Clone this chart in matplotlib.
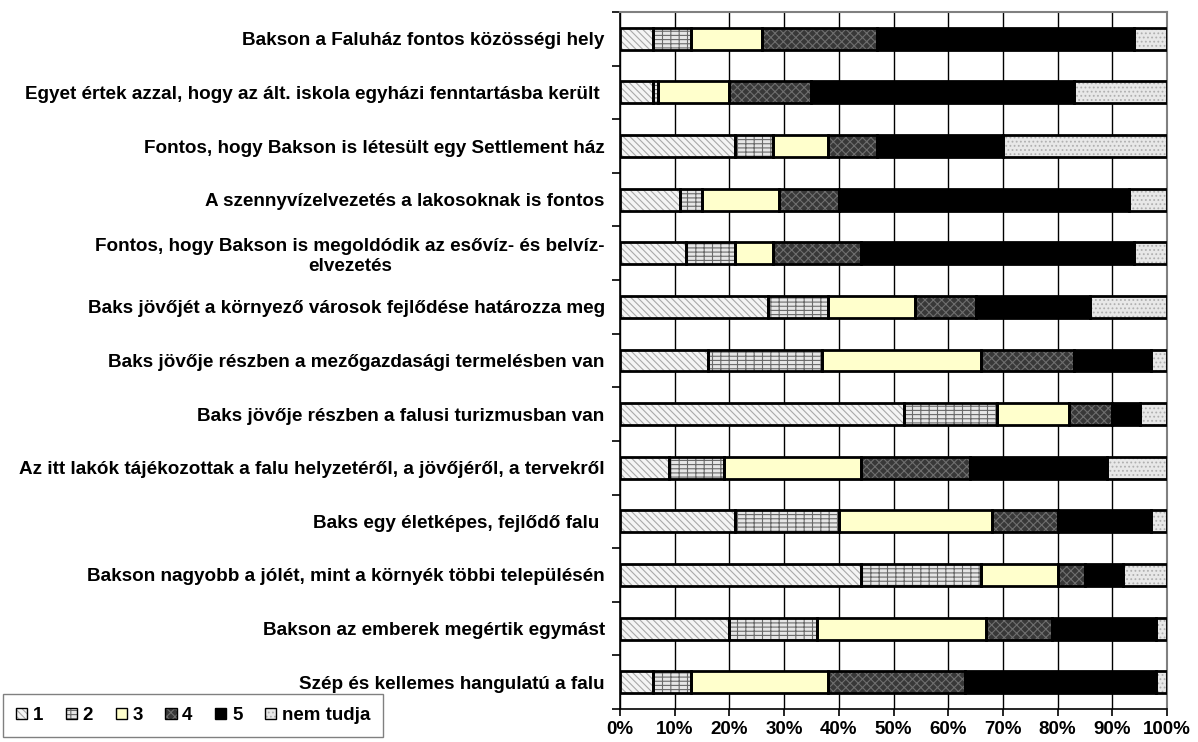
import matplotlib.pyplot as plt
from matplotlib.patches import Patch
from matplotlib.legend_handler import HandlerTuple
from matplotlib.ticker import MultipleLocator, PercentFormatter

plt.rcParams["font.family"] = ["Liberation Sans", "DejaVu Sans"]
plt.rcParams["font.weight"] = "bold"
plt.rcParams["hatch.linewidth"] = 0.8

statements = [
    "Bakson a Faluház fontos közösségi hely",
    "Egyet értek azzal, hogy az ált. iskola egyházi fenntartásba került ",
    "Fontos, hogy Bakson is létesült egy Settlement ház",
    "A szennyvízelvezetés a lakosoknak is fontos",
    "Fontos, hogy Bakson is megoldódik az esővíz- és belvíz-\nelvezetés",
    "Baks jövőjét a környező városok fejlődése határozza meg",
    "Baks jövője részben a mezőgazdasági termelésben van",
    "Baks jövője részben a falusi turizmusban van",
    "Az itt lakók tájékozottak a falu helyzetéről, a jövőjéről, a tervekről",
    "Baks egy életképes, fejlődő falu ",
    "Bakson nagyobb a jólét, mint a környék többi településén",
    "Bakson az emberek megértik egymást",
    "Szép és kellemes hangulatú a falu",
]

answers = ["1", "2", "3", "4", "5", "nem tudja"]

# percentages per answer, one value per statement (top to bottom)
score_1 = [6, 6, 21, 11, 12, 27, 16, 52, 9, 21, 44, 20, 6]
score_2 = [7, 1, 7, 4, 9, 11, 21, 17, 10, 19, 22, 16, 7]
score_3 = [13, 13, 10, 14, 7, 16, 29, 13, 25, 28, 14, 31, 25]
score_4 = [21, 15, 9, 11, 16, 11, 17, 8, 20, 12, 5, 12, 25]
score_5 = [47, 48, 23, 53, 50, 21, 14, 5, 25, 17, 7, 19, 35]
no_answer = [6, 17, 30, 7, 6, 14, 3, 5, 11, 3, 8, 2, 2]

series = [score_1, score_2, score_3, score_4, score_5, no_answer]

# face colour, hatch colour, hatch pattern for each answer
styles = [
    ("#f4f4f4", "#a8a8a8", "\\\\\\\\\\"),
    ("#e6e6e6", "#6a6a6a", "----||"),
    ("#ffffcc", "#ffffcc", ""),
    ("#383838", "#6e6e6e", "xxxx"),
    ("black", "black", ""),
    ("#e8e8e8", "#b0b0b0", "...."),
]

fig = plt.figure(figsize=(11.98, 7.42), dpi=100)
ax = fig.add_axes([620 / 1198, 1 - 709 / 742, 547 / 1198, 697 / 742])

y = list(range(len(statements)))
left = [0] * len(statements)
handles = []
for vals, (face, hcol, hatch) in zip(series, styles):
    ax.barh(y, vals, left=left, height=0.41, color=face, edgecolor=hcol,
            hatch=hatch, linewidth=0, zorder=2)
    ax.barh(y, vals, left=left, height=0.41, fill=False, edgecolor="black",
            linewidth=2, zorder=3)
    left = [a + b for a, b in zip(left, vals)]
    handles.append((Patch(facecolor=face, edgecolor=hcol, hatch=hatch, linewidth=0),
                    Patch(fill=False, edgecolor="black", linewidth=1)))

ax.set_xlim(0, 100)
ax.set_ylim(len(statements) - 0.5, -0.5)

ax.xaxis.set_major_locator(MultipleLocator(10))
ax.xaxis.set_major_formatter(PercentFormatter(decimals=0))
ax.grid(axis="x", color="black", linewidth=1, zorder=0)
ax.set_axisbelow(True)

ax.set_yticks(y)
ax.set_yticklabels(statements, multialignment="center")
ax.set_yticks([i + 0.5 for i in range(-1, len(statements))], minor=True)
ax.tick_params(axis="y", which="major", length=0, pad=11, labelsize=13.6)
ax.tick_params(axis="y", which="minor", length=6, width=1.2, direction="out")
ax.tick_params(axis="x", length=5, width=1.2, direction="out", pad=4, labelsize=13.5)

for side in ("top", "right"):
    ax.spines[side].set_color("#808080")
    ax.spines[side].set_linewidth(1.5)
for side in ("left", "bottom"):
    ax.spines[side].set_color("black")
    ax.spines[side].set_linewidth(1.2)

fig.legend(handles, answers, handler_map={tuple: HandlerTuple(ndivide=1)},
           loc="upper left", bbox_to_anchor=(3 / 1198, 1 - 694 / 742),
           borderaxespad=0, ncol=6, frameon=True, fancybox=False,
           edgecolor="#808080", framealpha=1, fontsize=13.5,
           handlelength=0.6, handleheight=0.6, handletextpad=0.3,
           columnspacing=1.2, borderpad=0.7)

fig.savefig("out.png", dpi=100)
